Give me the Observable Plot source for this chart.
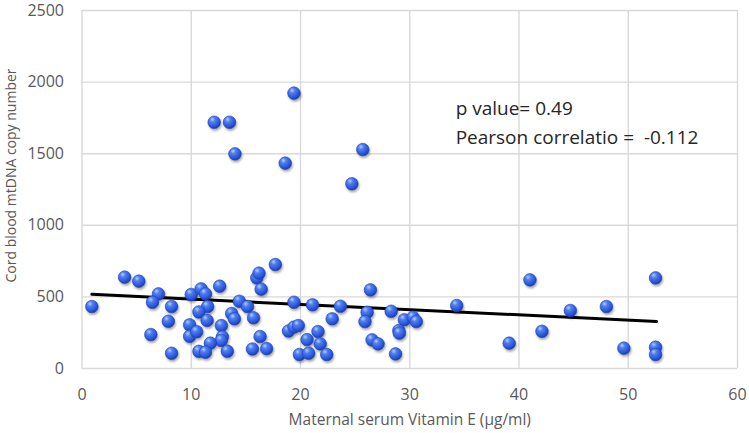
<!DOCTYPE html>
<html>
<head>
<meta charset="utf-8">
<script src="https://cdn.jsdelivr.net/npm/d3@7"></script>
<script src="https://cdn.jsdelivr.net/npm/@observablehq/plot@0.6"></script>
<style>
  html, body { margin: 0; padding: 0; background: #fff; }
  svg text { white-space: pre; }
</style>
</head>
<body>
<div id="chart"></div>
<script>
// Maternal serum Vitamin E (µg/ml)
const vitaminE = [
  0.9, 3.9, 5.2, 7.0, 6.45, 8.2, 7.9, 6.3, 8.2, 10.0,
  10.9, 11.3, 12.6, 11.5, 10.7, 11.45, 9.85, 9.85, 10.5, 12.76,
  12.85, 12.75, 11.75, 10.7, 11.3, 13.3, 13.7, 13.95, 14.4, 15.15,
  15.7, 16.3, 15.6, 16.9, 16.0, 16.2, 16.4, 17.7, 19.4, 21.1,
  23.65, 22.9, 26.4, 26.1, 25.9, 28.3, 29.5, 30.3, 30.6, 29.0,
  29.05, 26.55, 27.1, 28.7, 18.9, 19.4, 19.8, 21.6, 20.6, 21.8,
  19.9, 20.75, 22.4, 34.3, 41.0, 52.5, 39.1, 42.1, 44.7, 48.0,
  49.6, 52.5, 52.5, 19.4, 12.1, 13.5, 14.0, 18.6, 25.7, 24.7
];
// Cord blood mtDNA copy number
const mtDNA = [
  433, 638, 610, 521, 463, 433, 330, 237, 107, 517,
  556, 521, 575, 433, 395, 336, 305, 225, 257, 300,
  221, 196, 177, 120, 114, 121, 384, 347, 470, 433,
  354, 223, 136, 139, 633, 666, 554, 726, 463, 445,
  435, 347, 549, 393, 328, 400, 340, 358, 328, 265,
  247, 200, 172, 102, 262, 289, 300, 258, 202, 172,
  98, 107, 98, 440, 619, 633, 177, 260, 405, 433,
  142, 149, 98, 1923, 1720, 1720, 1499, 1434, 1529, 1290
];
// Linear trend line (as drawn in the reference)
const trendX = [0.9, 52.6];
const trendY = [518, 328];
// Tick labels
const xTicks = [0, 10, 20, 30, 40, 50, 60];
const yTicks = [0, 500, 1000, 1500, 2000, 2500];
// Annotation
const noteText = ["p value= 0.49", "Pearson correlatio =\u00a0\u00a0-0.112"];
const noteX = [34.2, 34.2];
const noteY = [1767, 1571];

const points = vitaminE.map((v, i) => ({x: v, y: mtDNA[i]}));
const trend = trendX.map((v, i) => ({x: v, y: trendY[i]}));
const notes = noteText.map((t, i) => ({x: noteX[i], y: noteY[i], t}));

const FONT = "'Open Sans', sans-serif";

const chart = Plot.plot({
  width: 749,
  height: 433,
  marginLeft: 81.5,
  marginRight: 12,
  marginTop: 10,
  marginBottom: 65,
  style: {fontFamily: FONT, background: "#fff", overflow: "visible"},
  x: {domain: [0, 60], ticks: xTicks},
  y: {domain: [0, 2500], ticks: yTicks},
  marks: [
    Plot.gridX(xTicks, {stroke: "#d9d9d9", strokeOpacity: 1, strokeWidth: 1.4}),
    Plot.gridY(yTicks, {stroke: "#d9d9d9", strokeOpacity: 1, strokeWidth: 1.4}),
    Plot.axisX(xTicks, {tickSize: 0, tickPadding: 20, fontSize: 16, fill: "#595959", label: null, tickFormat: d => String(d)}),
    Plot.axisY(yTicks, {tickSize: 0, tickPadding: 18, fontSize: 16, fill: "#595959", label: null, tickFormat: d => String(d)}),
    Plot.text(["Maternal serum Vitamin E (µg/ml)"], {frameAnchor: "bottom", dy: 56, fontSize: 15.5, fill: "#595959"}),
    Plot.text(["Cord blood mtDNA copy number"], {frameAnchor: "left", textAnchor: "middle", rotate: -90, dx: -70, dy: -14, fontSize: 14, fill: "#595959"}),
    Plot.line(trend, {x: "x", y: "y", stroke: "#000", strokeWidth: 3}),
    Plot.dot(points, {x: "x", y: "y", r: 6.3, fill: "url(#ball)", stroke: "#1f45b5", strokeWidth: 0.6}),
    Plot.text(notes, {x: "x", y: "y", text: "t", textAnchor: "start", lineAnchor: "bottom", fontSize: 19, fill: "#262626"})
  ]
});

// Add a sphere-like gradient and soft shadow for the dots
const svg = d3.select(chart);
const defs = svg.insert("defs", ":first-child");
const grad = defs.append("radialGradient")
  .attr("id", "ball").attr("cx", "38%").attr("cy", "32%").attr("r", "70%").attr("fx", "35%").attr("fy", "28%");
grad.append("stop").attr("offset", "0%").attr("stop-color", "#b9cdfd");
grad.append("stop").attr("offset", "30%").attr("stop-color", "#4f7ff2");
grad.append("stop").attr("offset", "75%").attr("stop-color", "#2a56dc");
grad.append("stop").attr("offset", "100%").attr("stop-color", "#1a3aa8");
svg.selectAll("circle").each(function() {
  this.parentNode.setAttribute("style", "filter: drop-shadow(1px 2px 1.2px rgba(0,0,0,0.35))");
});

document.getElementById("chart").appendChild(chart);
</script>
</body>
</html>
